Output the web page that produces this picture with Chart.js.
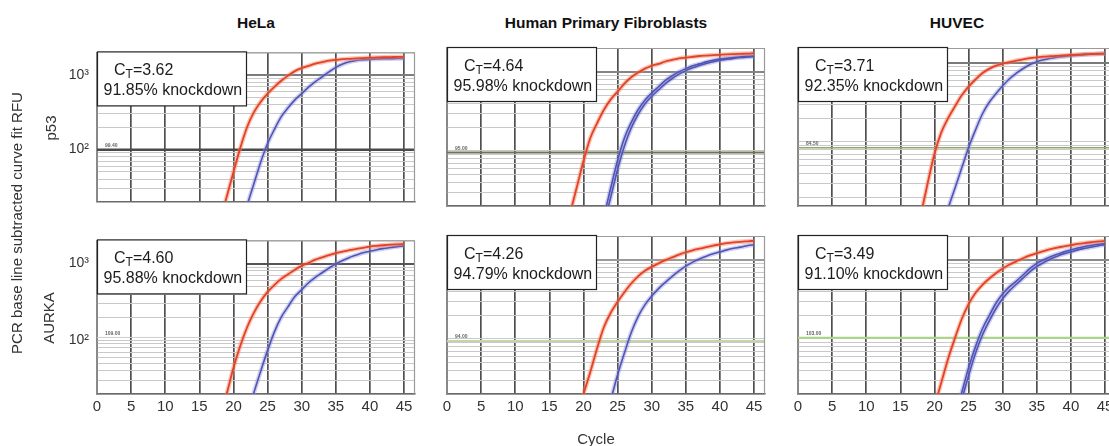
<!DOCTYPE html>
<html>
<head>
<meta charset="utf-8">
<script src="https://cdn.jsdelivr.net/npm/chart.js@4.4.0/dist/chart.umd.min.js"></script>
<style>
  html, body { margin: 0; padding: 0; width: 1109px; height: 446px; overflow: hidden; background: #fff; }
  body { position: relative; font-family: "Liberation Sans", Arial, sans-serif; color: #333; }
  canvas { position: absolute; }
  .lbl { position: absolute; transform: translate(-50%, -50%); white-space: nowrap; }
  .title { font-weight: bold; font-size: 15.5px; color: #111; }
  .side { font-size: 15px; color: #333; transform: translate(-50%, -50%) rotate(-90deg); }
  .axis { font-size: 15px; color: #333; }
</style>
</head>
<body>
<script>
// PCR cycle numbers for the amplification runs
const cycles = [16,17,18,19,20,21,22,23,24,25,26,27,28,29,30,31,32,33,34,35,36,37,38,39,40,41,42,43,44,45];

// Baseline-subtracted RFU per cycle (null = not yet above the plotted range)
// p53 — control (red) and siRNA knockdown (blue)
const helaP53Red   = [null,null,11,23,50,105,200,316,437,562,692,832,977,1122,1230,1318,1413,1479,1549,1585,1622,1641,1660,1679,1698,1710,1722,1730,1738,1746];
const helaP53Blue  = [null,null,null,null,null,10,18,35,68,120,186,275,363,462,562,684,813,944,1096,1259,1396,1496,1556,1592,1614,1629,1641,1648,1656,1660];
const fibroP53Red  = [null,9,16,34,74,145,224,331,447,562,708,851,977,1096,1189,1259,1349,1413,1479,1514,1549,1585,1603,1622,1641,1660,1675,1687,1698,1718];
const fibroP53Blue = [null,null,null,null,null,null,7.6,15,34,76,145,229,331,437,537,646,776,891,1000,1096,1189,1259,1334,1396,1445,1479,1514,1542,1567,1585];
const fibroP53Blue2= [null,null,null,null,null,null,6.3,12,26,58,115,195,288,390,490,589,708,822,933,1035,1122,1202,1274,1340,1396,1439,1479,1514,1538,1560];
const huvecP53Red  = [null,5,12,30,71,132,200,282,389,501,617,741,841,923,977,1023,1072,1109,1148,1175,1202,1216,1230,1245,1259,1274,1288,1297,1306,1318];
const huvecP53Blue = [null,null,null,null,null,8.3,14.5,26,47,85,141,224,316,407,513,631,741,851,955,1035,1096,1148,1180,1208,1230,1253,1274,1288,1300,1310];

// AURKA — control (red) and siRNA knockdown (blue)
const helaAurkaRed   = [null,null,10,20,44,85,148,229,324,427,525,631,724,832,933,1023,1122,1202,1288,1365,1429,1496,1549,1603,1660,1698,1730,1758,1778,1799];
const helaAurkaBlue  = [null,null,null,null,null,null,11,21,40,74,129,200,275,372,457,562,661,759,871,989,1096,1202,1288,1380,1445,1514,1567,1614,1660,1698];
const fibroAurkaRed  = [null,null,null,10,20,38,76,141,214,295,389,501,617,724,813,902,989,1072,1161,1245,1318,1380,1445,1514,1567,1622,1660,1690,1714,1738];
const fibroAurkaBlue = [null,null,null,null,null,null,null,9,17,35,66,120,191,269,347,432,519,617,724,832,933,1023,1109,1189,1259,1334,1396,1445,1507,1549];
const huvecAurkaRed  = [null,null,null,7,14,28,56,102,178,275,380,479,575,676,776,871,955,1047,1135,1216,1288,1365,1429,1479,1531,1585,1629,1667,1706,1738];
const huvecAurkaBlue = [null,null,null,null,null,null,null,10.7,21,43,79,132,195,282,372,457,537,646,776,902,1000,1096,1175,1259,1334,1413,1472,1524,1574,1603];
const huvecAurkaBlue2= [null,null,null,null,null,null,null,8.5,17,34,65,110,166,240,324,407,490,589,708,822,923,1023,1109,1189,1259,1334,1396,1452,1507,1549];

// Panel annotations and fluorescence thresholds (row-major: p53 row, then AURKA row)
const cellLines  = ['HeLa', 'Human Primary Fibroblasts', 'HUVEC'];
const targets    = ['p53', 'AURKA'];
const ctValues   = [3.62, 4.64, 3.71, 4.60, 4.26, 3.49];
const knockdown  = ['91.85', '95.98', '92.35', '95.88', '94.79', '91.10'];
const thresholds = [99.4, 95.0, 84.5, 109.0, 94.0, 103.0];
const yMins      = [20, 20, 15.45, 20, 20, 20];
const yMaxs      = [2000, 2000, 1545, 2000, 2000, 2000];
const xTickStep  = 5;
const xMax       = 46.6;

const redRuns  = [helaP53Red, fibroP53Red, huvecP53Red, helaAurkaRed, fibroAurkaRed, huvecAurkaRed];
const blueRuns = [[helaP53Blue], [fibroP53Blue, fibroP53Blue2], [huvecP53Blue],
                  [helaAurkaBlue], [fibroAurkaBlue], [huvecAurkaBlue, huvecAurkaBlue2]];

// ---- styling / layout ----
const FONT = '"Liberation Sans", Arial, sans-serif';
const COL_LEFT = [97, 447, 798];
const ROW_TOP = [48, 236];
const PLOT_W = 318, PLOT_H = 158;
const PAD = 12, AX_W = 45, AX_H = 26;
const thrColors = ['#4a4a4a', '#6c7450', '#8fab6c', '#cfcfcf', '#c2d6aa', '#a8d487'];
const thrWidths = [2.5, 2, 1.6, 1, 2, 2];
const majorGrid = ['#7d7d7d', '#858585', '#7a7a7a', '#555555', '#9a9a9a', '#8a8a8a'];

Chart.defaults.font.family = FONT;
Chart.defaults.color = '#333';

const toPoints = arr => cycles.map((c, k) => arr[k] == null ? null : { x: c, y: arr[k] }).filter(Boolean);

// white Ct / knockdown box, threshold value tag and plot frame
const panelDecor = {
  id: 'panelDecor',
  afterDatasetsDraw(chart, args, o) {
    const { ctx, chartArea: a } = chart;
    const ty = chart.scales.y.getPixelForValue(o.threshold);
    ctx.save();
    ctx.font = 'bold 5px ' + FONT;
    ctx.fillStyle = '#666';
    ctx.textBaseline = 'bottom';
    ctx.fillText(o.threshold.toFixed(2), a.left + 8, ty - 1.5);
    // frame top / right
    ctx.strokeStyle = '#9a9a9a';
    ctx.lineWidth = 1.2;
    ctx.beginPath();
    ctx.moveTo(a.left, a.top + 0.5); ctx.lineTo(a.right, a.top + 0.5);
    ctx.moveTo(a.right - 0.5, a.top); ctx.lineTo(a.right - 0.5, a.bottom);
    ctx.stroke();
    ctx.restore();
  },
  afterDraw(chart, args, o) {
    const { ctx, chartArea: a } = chart;
    const x = a.left + 0.5, y = a.top - 0.5, w = 149, h = 54;
    ctx.save();
    ctx.fillStyle = '#fff';
    ctx.fillRect(x, y, w, h);
    ctx.strokeStyle = '#222';
    ctx.lineWidth = 1.2;
    ctx.strokeRect(x, y, w, h);
    ctx.fillStyle = '#1c1c1c';
    ctx.textBaseline = 'alphabetic';
    ctx.font = '16px ' + FONT;
    let tx = x + 16.5;
    ctx.fillText('C', tx, y + 23);
    tx += ctx.measureText('C').width;
    ctx.font = '12px ' + FONT;
    ctx.fillText('T', tx, y + 26.5);
    tx += ctx.measureText('T').width;
    ctx.font = '16px ' + FONT;
    ctx.fillText('=' + o.ct.toFixed(2), tx, y + 23);
    ctx.fillText(o.kd + '% knockdown', x + 6, y + 43);
    ctx.restore();
  }
};

function logGridTicks(scale) {
  const t = [];
  for (let d = 1; d <= 1000; d *= 10)
    for (let m = 1; m <= 9; m++) {
      const v = m * d;
      if (v >= scale.min - 1e-6 && v <= scale.max + 1e-6) t.push({ value: v });
    }
  scale.ticks = t;
}

for (let i = 0; i < 6; i++) {
  const row = Math.floor(i / 3), col = i % 3;
  const axW = col === 0 ? AX_W : 0;
  const axH = row === 1 ? AX_H : 0;
  const cv = document.createElement('canvas');
  const w = PAD + axW + PLOT_W + PAD, h = PAD + PLOT_H + axH + PAD;
  cv.width = w; cv.height = h;
  cv.style.width = w + 'px'; cv.style.height = h + 'px';
  cv.style.left = (COL_LEFT[col] - PAD - axW) + 'px';
  cv.style.top = (ROW_TOP[row] - PAD) + 'px';
  document.body.appendChild(cv);

  const datasets = [];
  datasets.push({ data: toPoints(redRuns[i]), borderColor: '#e4402a', borderWidth: 1.8, order: 0 });
  datasets.push({ data: toPoints(redRuns[i]), borderColor: 'rgba(242,128,88,0.45)', borderWidth: 4.5, order: 1 });
  blueRuns[i].forEach(run => {
    datasets.push({ data: toPoints(run), borderColor: '#5054b5', borderWidth: 1.6, order: 2 });
    datasets.push({ data: toPoints(run), borderColor: 'rgba(140,144,220,0.42)', borderWidth: 4.5, order: 3 });
  });
  datasets.push({ data: [{ x: 0, y: thresholds[i] }, { x: xMax, y: thresholds[i] }],
                  borderColor: thrColors[i], borderWidth: thrWidths[i], order: 4 });
  datasets.forEach(d => { d.pointRadius = 0; d.fill = false; d.clip = 0; d.cubicInterpolationMode = 'monotone'; });

  new Chart(cv, {
    type: 'line',
    data: { datasets },
    plugins: [panelDecor],
    options: {
      responsive: false,
      animation: false,
      events: [],
      layout: { padding: PAD },
      plugins: {
        legend: { display: false },
        tooltip: { enabled: false },
        panelDecor: { ct: ctValues[i], kd: knockdown[i], threshold: thresholds[i] }
      },
      scales: {
        x: {
          type: 'linear', min: 0, max: xMax,
          afterFit: s => { s.height = axH; },
          grid: { color: '#4f4f4f', lineWidth: 1.7, drawTicks: false },
          border: { color: '#6a6a6a', width: 1.5 },
          ticks: {
            display: row === 1, stepSize: xTickStep, includeBounds: false, autoSkip: false,
            maxRotation: 0, padding: 4, color: '#333', font: { size: 15 }
          }
        },
        y: {
          type: 'logarithmic', min: yMins[i], max: yMaxs[i],
          afterFit: s => { s.width = axW; },
          afterBuildTicks: logGridTicks,
          grid: {
            drawTicks: false,
            color: c => (c.tick && Math.abs(c.tick.value - 1000) < 1e-6) ? majorGrid[i] : '#c9c9c9',
            lineWidth: c => (c.tick && Math.abs(c.tick.value - 1000) < 1e-6) ? 2 : 1
          },
          border: { color: '#8a8a8a', width: 1.5 },
          ticks: {
            display: col === 0, autoSkip: false, padding: 8, color: '#333', font: { size: 14 },
            callback: v => Math.abs(v - 100) < 1e-6 ? '10\u00B2' : (Math.abs(v - 1000) < 1e-6 ? '10\u00B3' : '')
          }
        }
      }
    }
  });
}

// column titles, row labels and shared axis titles
function addLabel(text, cls, x, y) {
  const d = document.createElement('div');
  d.className = 'lbl ' + cls;
  d.textContent = text;
  d.style.left = x + 'px';
  d.style.top = y + 'px';
  document.body.appendChild(d);
}
cellLines.forEach((t, c) => addLabel(t, 'title', COL_LEFT[c] + PLOT_W / 2, 23));
addLabel(targets[0], 'side', 50, ROW_TOP[0] + PLOT_H / 2 + 1);
addLabel(targets[1], 'side', 48, ROW_TOP[1] + PLOT_H / 2 + 3);
addLabel('PCR base line subtracted curve fit RFU', 'side', 15.5, 223);
addLabel('Cycle', 'axis', 596, 438);
</script>
</body>
</html>
